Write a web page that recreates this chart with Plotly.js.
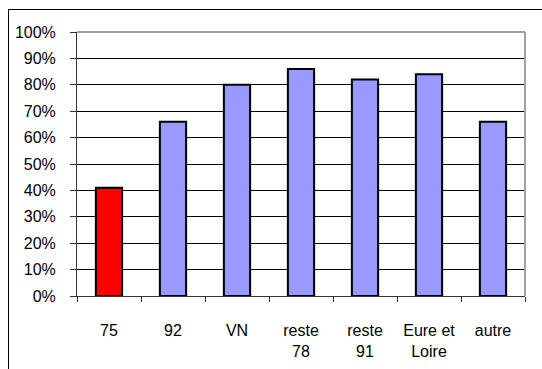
<!DOCTYPE html>
<html><head><meta charset="utf-8">
<script src="https://cdn.plot.ly/plotly-3.0.1.min.js"></script>
<style>
html,body{margin:0;padding:0;background:#fff;overflow:hidden}
#frame{position:absolute;left:8px;top:9px;width:700px;height:500px;border:1px solid #000;pointer-events:none;z-index:5}
#chart{position:absolute;left:0;top:0;width:542px;height:369px}
</style></head><body>
<div id="chart"></div>
<div id="frame"></div>
<script>
const categories = ["75", "92", "VN", "reste<br>78", "reste<br>91", "Eure et<br>Loire", "autre"];
const values = [0.41, 0.66, 0.80, 0.86, 0.82, 0.84, 0.66];
const barColors = ["#FF0000", "#9999FF", "#9999FF", "#9999FF", "#9999FF", "#9999FF", "#9999FF"];

const trace = {
  type: "bar",
  x: categories,
  y: values,
  marker: {color: barColors, line: {color: "#000", width: 2}},
  hoverinfo: "none"
};

const layout = {
  width: 542, height: 369,
  margin: {l: 77, r: 17, t: 32, b: 73},
  paper_bgcolor: "#fff", plot_bgcolor: "#fff",
  showlegend: false,
  bargap: 0.59,
  font: {family: "Liberation Sans, Arial, sans-serif", size: 16, color: "#000"},
  xaxis: {
    type: "category",
    tickson: "boundaries",
    tickangle: 0,
    ticks: "outside", ticklen: 5, tickcolor: "#333",
    showline: true, linecolor: "#333", linewidth: 1,
    showgrid: false,
    tickfont: {size: 16, color: "#000"},
    ticklabelstandoff: 20
  },
  yaxis: {
    range: [0, 1], dtick: 0.1, tickformat: ".0%",
    ticks: "outside", ticklen: 6, tickcolor: "#333",
    showline: true, linecolor: "#333", linewidth: 1,
    showgrid: true, gridcolor: "#000", gridwidth: 1,
    zeroline: false,
    tickfont: {size: 16, color: "#000"},
    ticklabelstandoff: 11
  },
  shapes: [
    {type: "line", xref: "paper", yref: "paper", x0: 0, x1: 1, y0: 1, y1: 1, line: {color: "#A0A0A0", width: 2}},
    {type: "line", xref: "paper", yref: "paper", x0: 1, x1: 1, y0: 0, y1: 1, line: {color: "#A0A0A0", width: 2}}
  ]
};

Plotly.newPlot("chart", [trace], layout, {staticPlot: true, displayModeBar: false});
</script>
</body></html>
